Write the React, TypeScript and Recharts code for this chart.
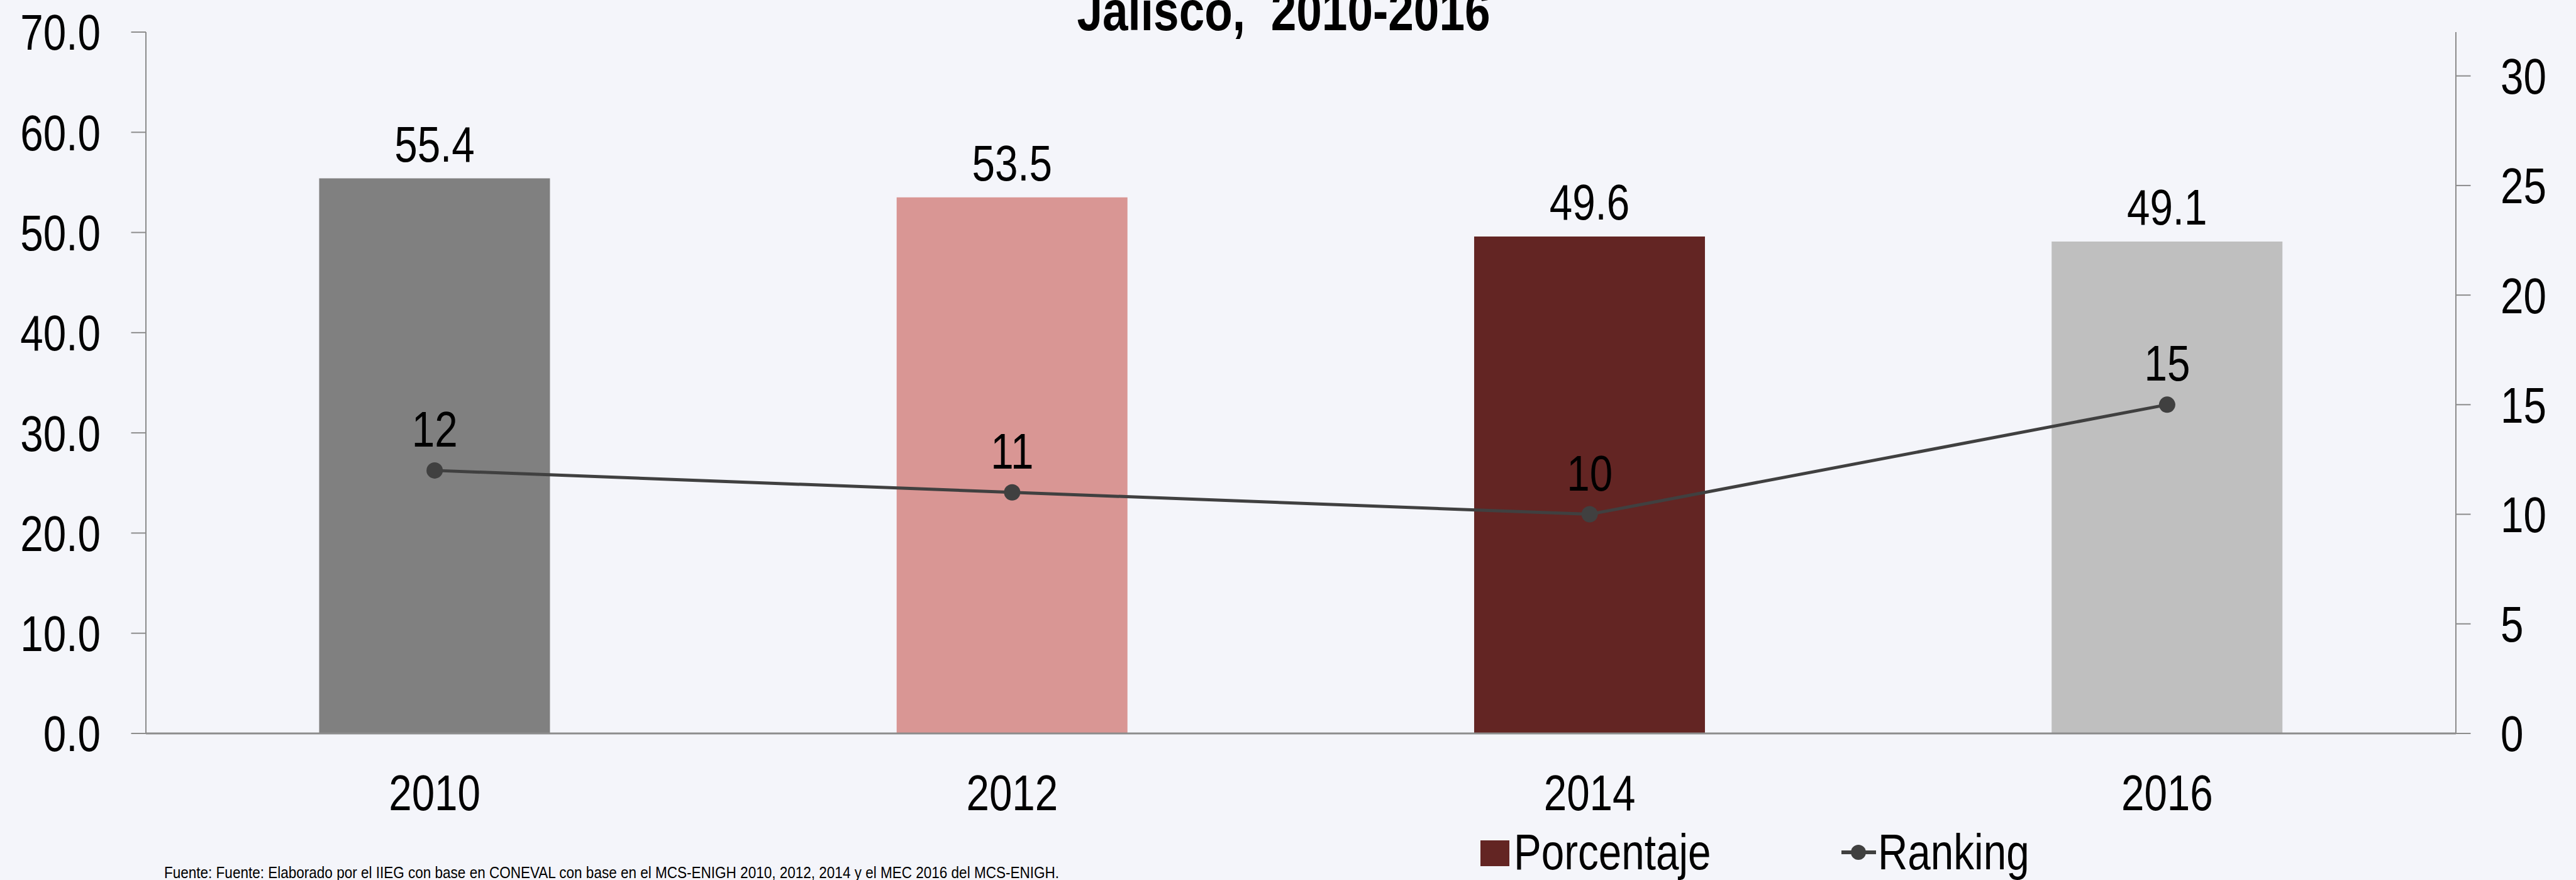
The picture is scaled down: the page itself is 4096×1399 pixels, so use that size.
import React from 'react'
import { ComposedChart, Bar, Line, XAxis, YAxis, Cell, LabelList } from 'recharts'

const YEARS = ['2010', '2012', '2014', '2016']
const PORCENTAJE = [55.4, 53.5, 49.6, 49.1]
const RANKING = [12, 11, 10, 15]
const LEFT_TICKS = [0, 10, 20, 30, 40, 50, 60, 70]
const RIGHT_TICKS = [0, 5, 10, 15, 20, 25, 30]
const BAR_COLORS = ['#808080', '#d99694', '#632523', '#bfbfbf']
const TITLE = 'Jalisco,  2010-2016'
const SOURCE =
  'Fuente: Fuente: Elaborado por el IIEG con base en CONEVAL con base en el MCS-ENIGH 2010, 2012, 2014 y el MEC 2016 del MCS-ENIGH.'

const W = 4096
const H = 1399
const BG = '#f4f5fa'
const AXIS = '#8c8c8c'
const LINE = '#404040'
const FONT = "'Liberation Sans', Arial, sans-serif"
const FS = 80
const NARROW = 0.82 // Arial Narrow aprox.

const data = YEARS.map((year, i) => ({ year, porcentaje: PORCENTAJE[i], ranking: RANKING[i] }))

// texto angosto: Liberation Sans comprimido en x
function NarrowText({
  x, y, children, anchor = 'middle', dy = 0, size = FS, bold = false,
}: {
  x: number; y: number; children: React.ReactNode; anchor?: string; dy?: string | number; size?: number; bold?: boolean
}) {
  return (
    <g transform={`translate(${x},${y}) scale(${NARROW},1)`}>
      <text
        x={0} y={0} dy={dy} textAnchor={anchor as any} fontSize={size} fontFamily={FONT}
        fontWeight={bold ? 'bold' : 'normal'} fill="#000" style={{ whiteSpace: 'pre' }}
      >
        {children}
      </text>
    </g>
  )
}

function LeftTick({ x, y, payload }: any) {
  return <NarrowText x={x} y={y} anchor="end" dy="0.355em">{Number(payload.value).toFixed(1)}</NarrowText>
}

function RightTick({ x, y, payload }: any) {
  return <NarrowText x={x} y={y} anchor="start" dy="0.355em">{payload.value}</NarrowText>
}

function BottomTick({ x, y, payload }: any) {
  return <NarrowText x={x} y={y} anchor="middle" dy="0.716em">{payload.value}</NarrowText>
}

function BarLabel({ x, y, width, value }: any) {
  return <NarrowText x={x + width / 2} y={y - 27}>{Number(value).toFixed(1)}</NarrowText>
}

function PointLabel({ x, y, value }: any) {
  return <NarrowText x={x} y={y - 38}>{value}</NarrowText>
}

export default function App() {
  return (
    <div style={{ position: 'absolute', left: 0, top: 0, width: W, height: H, background: BG }}>
      <ComposedChart
        width={W}
        height={H}
        data={data}
        barCategoryGap="30%"
        margin={{ top: 51, right: 0, bottom: 0, left: 0 }}
      >
        <XAxis
          dataKey="year"
          height={233}
          axisLine={{ stroke: AXIS, strokeWidth: 3 }}
          tickLine={false}
          tickSize={0}
          tickMargin={65}
          tick={<BottomTick />}
        />
        <YAxis
          yAxisId="left"
          width={232}
          domain={[0, 70]}
          ticks={LEFT_TICKS}
          axisLine={{ stroke: AXIS, strokeWidth: 2 }}
          tickLine={{ stroke: AXIS, strokeWidth: 2 }}
          tickSize={23.5}
          tickMargin={48.5}
          tick={<LeftTick />}
        />
        <YAxis
          yAxisId="right"
          orientation="right"
          width={191}
          domain={[0, 32]}
          ticks={RIGHT_TICKS}
          axisLine={{ stroke: AXIS, strokeWidth: 2 }}
          tickLine={{ stroke: AXIS, strokeWidth: 2 }}
          tickSize={23.5}
          tickMargin={47.5}
          tick={<RightTick />}
        />
        <Bar yAxisId="left" dataKey="porcentaje" isAnimationActive={false}>
          {data.map((_, i) => <Cell key={i} fill={BAR_COLORS[i]} />)}
          <LabelList dataKey="porcentaje" content={<BarLabel />} />
        </Bar>
        <Line
          yAxisId="right"
          dataKey="ranking"
          type="linear"
          stroke={LINE}
          strokeWidth={5}
          dot={{ r: 13, fill: LINE, stroke: LINE, strokeWidth: 0 }}
          activeDot={false}
          isAnimationActive={false}
        >
          <LabelList dataKey="ranking" content={<PointLabel />} />
        </Line>
      </ComposedChart>

      {/* titulo, leyenda y fuente */}
      <svg width={W} height={H} style={{ position: 'absolute', left: 0, top: 0, pointerEvents: 'none' }}>
        <NarrowText x={2041} y={48} size={89} bold>{TITLE}</NarrowText>
        <rect x={2354} y={1336} width={46} height={41} fill={BAR_COLORS[2]} />
        <NarrowText x={2407} y={1382} anchor="start">Porcentaje</NarrowText>
        <line x1={2928} x2={2983} y1={1355} y2={1355} stroke={LINE} strokeWidth={6} />
        <circle cx={2955} cy={1355} r={12} fill={LINE} />
        <NarrowText x={2986} y={1382} anchor="start">Ranking</NarrowText>
        <text x={261} y={1396} fontSize={26} fontFamily={FONT} textLength={1423} lengthAdjust="spacingAndGlyphs">
          {SOURCE}
        </text>
      </svg>
    </div>
  )
}
